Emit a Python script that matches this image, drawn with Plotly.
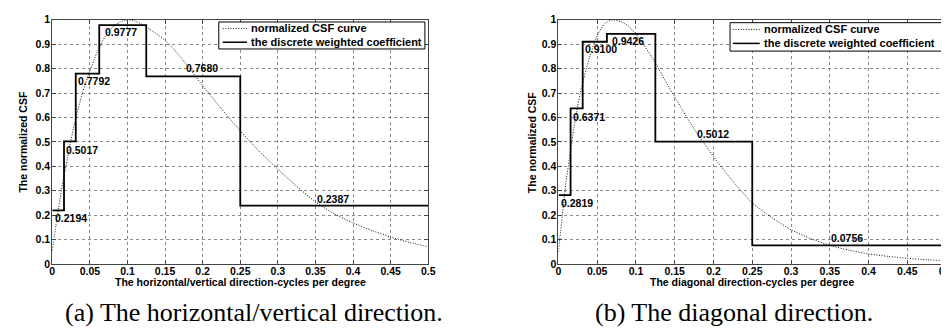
import plotly.graph_objects as go

# ---------------- data ----------------
x_tick_vals = [0, 0.05, 0.1, 0.15, 0.2, 0.25, 0.3, 0.35, 0.4, 0.45, 0.5]
x_tick_text = ["0", "0.05", "0.1", "0.15", "0.2", "0.25", "0.3", "0.35", "0.4", "0.45", "0.5"]
y_tick_vals = [0, 0.1, 0.2, 0.3, 0.4, 0.5, 0.6, 0.7, 0.8, 0.9, 1.0]
y_tick_text = ["0", "0.1", "0.2", "0.3", "0.4", "0.5", "0.6", "0.7", "0.8", "0.9", "1"]

band_edges = [0, 1/64, 1/32, 1/16, 1/8, 1/4, 1/2]
coef_hv = [0.2194, 0.5017, 0.7792, 0.9777, 0.7680, 0.2387]
coef_diag = [0.2819, 0.6371, 0.9100, 0.9426, 0.5012, 0.0756]

csf_x = [0, 0.005, 0.01, 0.015, 0.02, 0.025, 0.03, 0.04, 0.05, 0.06, 0.07, 0.08, 0.09,
         0.1, 0.11, 0.12, 0.13, 0.14, 0.15, 0.16, 0.175, 0.2, 0.225, 0.25, 0.275, 0.3,
         0.325, 0.35, 0.375, 0.4, 0.425, 0.45, 0.475, 0.5]
csf_hv = [0.055, 0.16, 0.26, 0.35, 0.43, 0.51, 0.58, 0.70, 0.79, 0.87, 0.93, 0.97, 0.99,
          1.0, 0.995, 0.98, 0.96, 0.94, 0.915, 0.885, 0.83, 0.73, 0.635, 0.545, 0.462, 0.388,
          0.318, 0.254, 0.205, 0.168, 0.137, 0.11, 0.088, 0.07]
csf_diag = [0.05, 0.2, 0.34, 0.45, 0.56, 0.65, 0.725, 0.845, 0.935, 0.985, 1.0, 0.993, 0.975,
            0.94, 0.898, 0.849, 0.795, 0.738, 0.684, 0.63, 0.553, 0.44, 0.338, 0.25, 0.19, 0.14,
            0.104, 0.076, 0.056, 0.041, 0.031, 0.023, 0.017, 0.013]

legend_names = ["normalized CSF curve", "the discrete weighted coefficient"]
x_titles = ["The horizontal/vertical direction-cycles per degree",
            "The diagonal direction-cycles per degree"]
y_title = "The normalized CSF"
captions = ["(a) The horizontal/vertical direction.", "(b) The diagonal direction."]

# ---------------- layout helpers ----------------
label_x_hv = [0.0013, 0.0153, 0.032, 0.067, 0.175, 0.349]
label_x_diag = [0.001, 0.0158, 0.032, 0.067, 0.1755, 0.349]
label_dy = [-8, -8.5, -7.5, -7, 8, 7]

W, H = 949, 331
FONT = "Liberation Sans, Arial, sans-serif"
CURVE_LINE = dict(color="#111", width=1, dash="1px,1.6px")
STEP_LINE = dict(color="black", width=1.8)

def px(v):
    return v / W

def py(v):
    return (H - v) / H

fig = go.Figure()

panels = [
    dict(coef=coef_hv, csf=csf_hv, lx=label_x_hv, xa="x", ya="y",
         dom=[41.7 / W, 421.7 / W],
         leg=dict(x0=210, x1=418.3, y0=8.3, y1=36.3, l0=214, l1=238.5, tx=240.7, r1=15, r2=29.3),
         ytx=12),
    dict(coef=coef_diag, csf=csf_diag, lx=label_x_diag, xa="x2", ya="y2",
         dom=[553.3 / W, 945 / W],
         leg=dict(x0=726.7, x1=941.7, y0=9, y1=38.5, l0=729.5, l1=756.7, tx=759, r1=16, r2=30.5),
         ytx=526),
]

annotations = []
shapes = []
for i, p in enumerate(panels):
    fig.add_trace(go.Scatter(
        x=csf_x, y=p["csf"], mode="lines", name=legend_names[0], showlegend=False,
        line=dict(CURVE_LINE, shape="spline", smoothing=0.6),
        xaxis=p["xa"], yaxis=p["ya"]))
    fig.add_trace(go.Scatter(
        x=band_edges, y=p["coef"] + [p["coef"][-1]], mode="lines", name=legend_names[1],
        showlegend=False, line=dict(STEP_LINE, shape="hv"),
        xaxis=p["xa"], yaxis=p["ya"]))
    for v, lx, dy in zip(p["coef"], p["lx"], label_dy):
        annotations.append(dict(
            x=lx, y=v, xref=p["xa"], yref=p["ya"], text=f"{v:.4f}", showarrow=False,
            xanchor="left", yanchor="middle", yshift=dy,
            font=dict(family=FONT, size=10.5, color="black", weight="bold")))

    # legend box (drawn on top of the plot)
    L = p["leg"]
    shapes.append(dict(type="rect", xref="paper", yref="paper", layer="above",
                       x0=px(L["x0"]), x1=px(L["x1"]), y0=py(L["y1"]), y1=py(L["y0"]),
                       fillcolor="white", line=dict(color="black", width=1)))
    shapes.append(dict(type="line", xref="paper", yref="paper", layer="above",
                       x0=px(L["l0"]), x1=px(L["l1"]), y0=py(L["r1"]), y1=py(L["r1"]),
                       line=CURVE_LINE))
    shapes.append(dict(type="line", xref="paper", yref="paper", layer="above",
                       x0=px(L["l0"]), x1=px(L["l1"]), y0=py(L["r2"]), y1=py(L["r2"]),
                       line=dict(color="black", width=1.5)))
    for name, r in zip(legend_names, [L["r1"], L["r2"]]):
        annotations.append(dict(x=px(L["tx"]), y=py(r), xref="paper", yref="paper",
                                text=name, showarrow=False, xanchor="left", yanchor="middle",
                                font=dict(family=FONT, size=11, color="black", weight="bold")))

    # axis titles
    cx = (p["dom"][0] + p["dom"][1]) / 2
    annotations.append(dict(x=cx, y=py(278), xref="paper", yref="paper",
                            text=x_titles[i], showarrow=False, xanchor="center", yanchor="middle",
                            font=dict(family=FONT, size=10.5, color="black", weight="bold")))
    annotations.append(dict(x=px(p["ytx"]), y=py(132.5), xref="paper",
                            yref="paper", text=y_title, textangle=-90, showarrow=False,
                            xanchor="center", yanchor="middle",
                            font=dict(family=FONT, size=10.5, color="black", weight="bold")))

cap_x = [246, 731]
for i in range(2):
    annotations.append(dict(x=px(cap_x[i]), y=py(310), xref="paper", yref="paper",
                            text=captions[i], showarrow=False, xanchor="center", yanchor="middle",
                            font=dict(family="Liberation Serif, Times New Roman, serif", size=26,
                                      color="black")))

axis_common = dict(showline=True, linecolor="#444", linewidth=1, mirror="ticks",
                   ticks="inside", ticklen=4, tickcolor="#444",
                   showgrid=True, gridcolor="#888", griddash="dot", gridwidth=1,
                   zeroline=False, ticklabeloverflow="allow",
                   tickfont=dict(family=FONT, size=10.5, color="black", weight="bold"))

ybot, ytop = py(259.3), py(6)
for i, p in enumerate(panels):
    sfx = "" if i == 0 else "2"
    fig.update_layout(**{
        f"xaxis{sfx}": dict(axis_common, domain=p["dom"], range=[0, 0.5],
                            tickvals=x_tick_vals, ticktext=x_tick_text,
                            ticklabelstandoff=-2, anchor=f"y{sfx}"),
        f"yaxis{sfx}": dict(axis_common, domain=[ybot, ytop], range=[0, 1],
                            tickvals=y_tick_vals, ticktext=y_tick_text,
                            ticklabelstandoff=-1, anchor=f"x{sfx}"),
    })

fig.update_layout(
    width=W, height=H, margin=dict(l=0, r=0, t=0, b=0),
    paper_bgcolor="white", plot_bgcolor="white", showlegend=False,
    annotations=annotations, shapes=shapes,
)

fig.write_html("out.html")
